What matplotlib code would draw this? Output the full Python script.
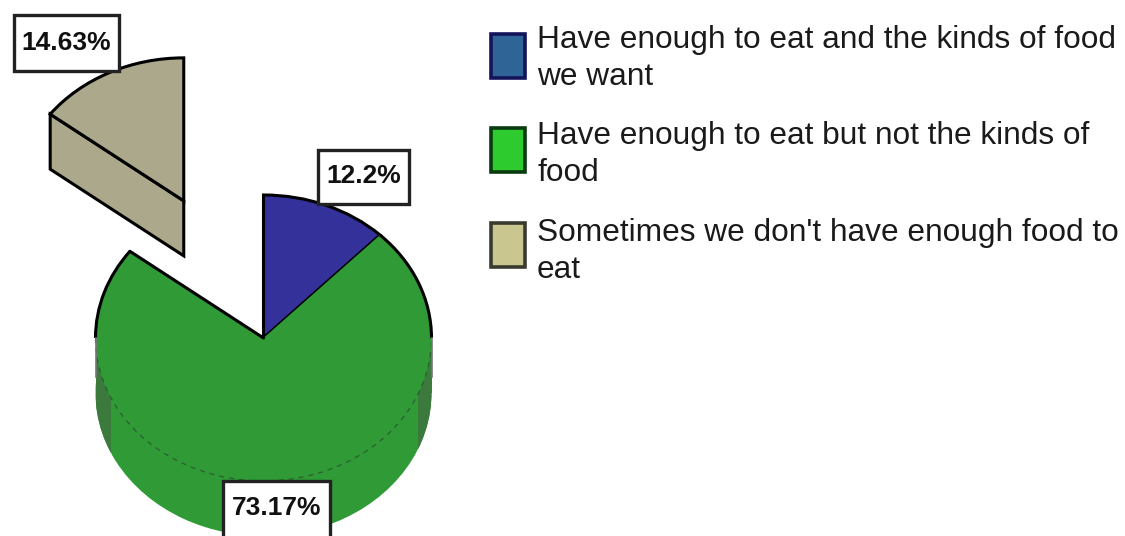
import numpy as np
import matplotlib
matplotlib.use("Agg")
import matplotlib.pyplot as plt
from matplotlib.patches import Arc, Polygon, Rectangle
from matplotlib.path import Path

W, H = 1125, 536

shares = [12.2, 73.17, 14.63]
pct_labels = ["12.2%", "73.17%", "14.63%"]
explode = [0, 0, 1.07]
slice_colors = ["#34319a", "#2f9a36", "#aca88c"]
legend_colors = ["#2f6497", "#2ecb2e", "#c9c690"]
legend_edges = ["#14145a", "#0c3a10", "#3a3a30"]
legend_labels = [
    "Have enough to eat and the kinds of food\nwe want",
    "Have enough to eat but not the kinds of\nfood",
    "Sometimes we don't have enough food to\neat",
]

# pie geometry in pixels
cx, cy = 263.5, 338
rx, ry = 168, 143
depth = 55 / ry

fig = plt.figure(figsize=(W / 100, H / 100), dpi=100)

# one data unit = rx px across and ry px up, this squashes the pie
ax = fig.add_axes([0, 0, 1, 1])

# side of the green slice, dark strips only at the two ends
ax.pie(shares, colors=["none", slice_colors[1], "none"], startangle=90,
       counterclock=False, center=(0, -depth), wedgeprops=dict(linewidth=0))
for x0, x1 in [(-1.0, -0.91), (0.917, 1.0)]:
    strip = ax.pie(shares, colors=["none", "#3b7a3c", "none"], startangle=90,
                   counterclock=False, center=(0, -depth),
                   wedgeprops=dict(linewidth=0))[0]
    clip = Path([(x0, -2), (x1, -2), (x1, 1), (x0, 1), (x0, -2)])
    # pie turns clipping off on its wedges
    strip[1].set_clip_on(True)
    strip[1].set_clip_path(clip, ax.transData)
    # wall between the top rim and the shifted rim
    ax.add_patch(Rectangle((x0, -depth), x1 - x0, depth, facecolor="#3b7a3c",
                           linewidth=0, zorder=0.9))

# top face
top = ax.pie(shares, colors=slice_colors, startangle=90, counterclock=False,
             explode=explode,
             wedgeprops=dict(edgecolor="black", linewidth=2.2))[0]
blue, green, tan = top
green.set_linewidth(0)
green.set_edgecolor("none")

# side of the tan slice goes under its top face
tx, ty = tan.center
a = np.deg2rad(tan.theta2)
lx, ly = tx + np.cos(a), ty + np.sin(a)
tan_side = Polygon([(tx, ty), (lx, ly), (lx, ly - depth), (tx, ty - depth)],
                   closed=True, facecolor=slice_colors[2], edgecolor="black",
                   linewidth=2.2, zorder=0.9)
ax.add_patch(tan_side)

# green outline: solid on the upper part, dashed on the front
ax.add_patch(Arc((0, 0), 2, 2, theta1=0, theta2=green.theta2, color="black", lw=2.2))
ax.add_patch(Arc((0, 0), 2, 2, theta1=green.theta1 + 360, theta2=180, color="black", lw=2.2))
ax.add_patch(Arc((0, 0), 2, 2, theta1=180, theta2=360, color="#2a5f2e", lw=0.9, ls=(0, (4, 4))))
b = np.deg2rad(green.theta1)
ax.plot([0, np.cos(b)], [0, np.sin(b)], color="black", lw=2.2, solid_capstyle="round")
ax.plot([-1, -1], [0, -depth * 0.7], color="#777777", lw=1.2)
ax.plot([1, 1], [0, -depth * 0.7], color="#777777", lw=1.2)

ax.set_aspect("auto")
ax.set_xlim(-cx / rx, (W - cx) / rx)
ax.set_ylim((cy - H) / ry, cy / ry)
ax.axis("off")

# labels and legend sit on a pixel overlay
ov = fig.add_axes([0, 0, 1, 1])
ov.set_xlim(0, W)
ov.set_ylim(H, 0)
ov.axis("off")
ov.patch.set_alpha(0)

fonts = ["Liberation Sans", "DejaVu Sans"]

label_boxes = [(318, 150, 91, 54), (223, 481, 107, 60), (14, 15, 105, 56)]
label_text_y = [176, 508, 43]
for txt, (x, y, w, h), ty_ in zip(pct_labels, label_boxes, label_text_y):
    ov.add_patch(Rectangle((x, y), w, h, facecolor="white", edgecolor="#222222", linewidth=2.4))
    ov.text(x + w / 2, ty_, txt, ha="center", va="center", fontsize=19,
            fontweight="bold", family=fonts, color="#111111")

legend_box_y = [34, 128, 223]
legend_text_y = [25, 121, 218]
for lab, col, edge, by, ty_ in zip(legend_labels, legend_colors, legend_edges,
                                   legend_box_y, legend_text_y):
    ov.add_patch(Rectangle((491, by), 34, 44, facecolor=col, edgecolor=edge, linewidth=2.6))
    ov.text(537, ty_, lab, ha="left", va="top", fontsize=22.8, family=fonts,
            color="#1a1a1a", linespacing=1.3)

fig.savefig("out.png", dpi=100)
